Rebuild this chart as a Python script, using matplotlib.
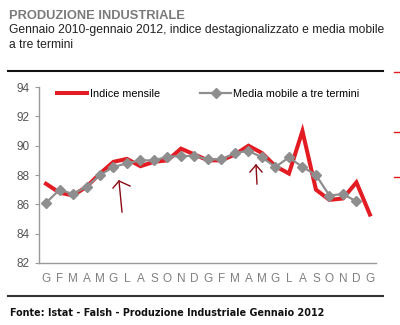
import matplotlib
matplotlib.use("Agg")
import matplotlib.pyplot as plt
from matplotlib.lines import Line2D

months = ["G","F","M","A","M","G","L","A","S","O","N","D",
          "G","F","M","A","M","G","L","A","S","O","N","D","G"]
indice = [87.4, 86.8, 86.6, 87.2, 88.1, 88.9, 89.1, 88.6, 88.9, 89.0, 89.8, 89.4,
          89.0, 89.0, 89.4, 90.0, 89.5, 88.6, 88.1, 91.0, 87.0, 86.3, 86.4, 87.5, 85.3]
media = [86.1, 87.0, 86.7, 87.2, 88.0, 88.55, 88.8, 89.0, 89.0, 89.25, 89.3, 89.3,
         89.07, 89.07, 89.5, 89.65, 89.2, 88.55, 89.2, 88.55, 88.0, 86.6, 86.7, 86.2]
yticks = [82, 84, 86, 88, 90, 92, 94]

RED = "#e31b23"
GRAY = "#8e8e8e"
FONT = "Liberation Sans"

W, H = 400.0, 325.0
def fx(px):
    return px / W
def fy(py):
    return 1 - py / H

fig = plt.figure(figsize=(4.0, 3.25), dpi=100)
fig.patch.set_facecolor("white")
ax = fig.add_axes([0.0975, 0.191, 0.8425, 0.541])

x = list(range(len(months)))
ax.plot(x, indice, color=RED, lw=2.9, solid_joinstyle="miter", zorder=2)
ax.plot(x[:len(media)], media, color=GRAY, lw=1.6, marker="D", ms=5.5,
        mec=GRAY, mfc=GRAY, zorder=3)

ax.set_ylim(82, 94)
ax.set_xlim(-0.52, 24.45)
ax.set_yticks(yticks)
ax.set_yticklabels([str(v) for v in yticks], fontsize=8.5, color="#555555", family=FONT)
ax.set_xticks(x)
ax.set_xticklabels(months, fontsize=8.5, color="#808080", family=FONT)
ax.tick_params(axis="x", length=0, pad=7)
ax.tick_params(axis="y", length=3, color="#999999", width=0.8, pad=4)
for s in ["top", "right"]:
    ax.spines[s].set_visible(False)
for s in ["left", "bottom"]:
    ax.spines[s].set_color("#999999")
    ax.spines[s].set_linewidth(1.0)

lfs = 7.8
h1 = Line2D([], [], color=RED, lw=2.9)
h2 = Line2D([], [], color=GRAY, lw=1.6, marker="D", ms=5.5)
leg1 = fig.legend([h1], ["Indice mensile"], loc="center left",
                  bbox_to_anchor=(fx(57), fy(94)), bbox_transform=fig.transFigure,
                  frameon=False, prop={"family": FONT, "size": lfs},
                  handlelength=2.75, handletextpad=0.3, borderpad=0, borderaxespad=0)
leg2 = fig.legend([h2], ["Media mobile a tre termini"], loc="center left",
                  bbox_to_anchor=(fx(200), fy(94)), bbox_transform=fig.transFigure,
                  frameon=False, prop={"family": FONT, "size": lfs},
                  handlelength=2.9, handletextpad=0.15, borderpad=0, borderaxespad=0)

# title block
fig.text(0.022, 0.952, "PRODUZIONE INDUSTRIALE", fontsize=9.3, fontweight="bold",
         color="#7a7a7a", family=FONT, va="center")
fig.text(0.022, 0.908, "Gennaio 2010-gennaio 2012, indice destagionalizzato e media mobile",
         fontsize=8.7, color="#222222", family=FONT, va="center")
fig.text(0.022, 0.862, "a tre termini", fontsize=8.7, color="#222222", family=FONT, va="center")

fig.add_artist(Line2D([0.02, 0.958], [0.781, 0.781], color="#111111", lw=1.5,
                      transform=fig.transFigure))
fig.add_artist(Line2D([0.02, 0.958], [0.089, 0.089], color="#333333", lw=1.5,
                      transform=fig.transFigure))
fig.text(0.025, 0.037, "Fonte: Istat - Falsh - Produzione Industriale Gennaio 2012",
         fontsize=6.9, fontweight="bold", color="#111111", family="DejaVu Sans", va="center")

# hand-drawn arrows
fig.add_artist(Line2D([fx(122), fx(119)], [fy(212), fy(181)], color="#8b0a14", lw=1.0,
                      transform=fig.transFigure))
fig.add_artist(Line2D([fx(113), fx(119), fx(130)], [fy(188), fy(181), fy(186)],
                      color="#8b0a14", lw=1.0, transform=fig.transFigure))
fig.add_artist(Line2D([fx(257), fx(256)], [fy(184), fy(165)], color="#8b0a14", lw=1.0,
                      transform=fig.transFigure))
fig.add_artist(Line2D([fx(250), fx(256), fx(262)], [fy(172), fy(165), fy(172)],
                      color="#8b0a14", lw=1.0, transform=fig.transFigure))
# red edge marks
for py in [72, 132, 177]:
    fig.add_artist(Line2D([fx(394), fx(400)], [fy(py), fy(py)], color=RED, lw=1.0,
                          transform=fig.transFigure))

fig.savefig("out.png", dpi=100, facecolor="white")
